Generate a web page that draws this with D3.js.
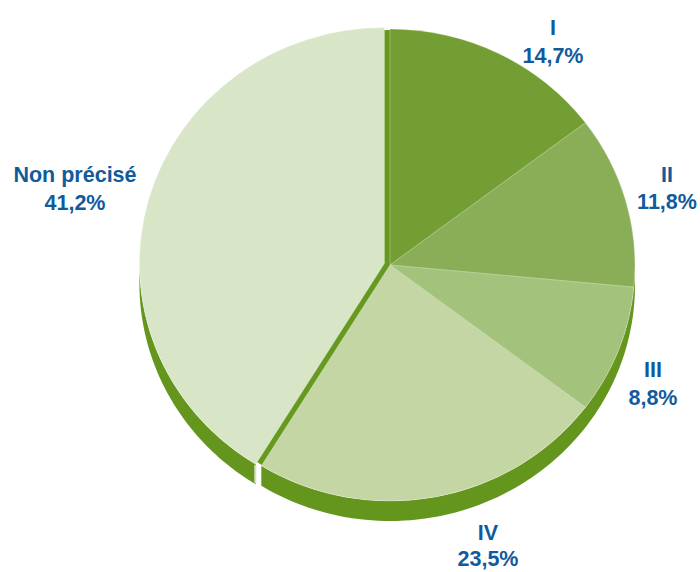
<!DOCTYPE html>
<html><head><meta charset="utf-8">
<script src="https://cdn.jsdelivr.net/npm/d3@7"></script>
<style>html,body{margin:0;padding:0;background:#fff;}svg{display:block;}</style>
</head><body>
<svg id="chart" width="700" height="572"></svg>
<script>
// ---- data ----
const categories = ["I", "II", "III", "IV", "Non précisé"];
const values = [14.7, 11.8, 8.8, 23.5, 41.2];
const valueLabels = ["14,7%", "11,8%", "8,8%", "23,5%", "41,2%"];
const colors = ["#739e34", "#8aae57", "#a3c27b", "#c3d6a4", "#d9e5c7"];

// ---- layout ----
const cx = 390, cy = 265, rx = 245, ry = 236, depth = 20;
const explodeDist = 5.8;               // "Non précisé" slice pulled out
const sideColor = "#64961e";
const baseColor = "#66991f";
const textColor = "#115b9c";
// label block centres (x, baseline of first line)
const labelAnchors = [[553, 35], [667, 182], [653, 377], [488, 540], [75, 182]];
const lineGap = [28, 27, 28, 26, 28];

const svg = d3.select("#chart");
const pie = d3.pie().sort(null).value(d => d)(values);
const arc = d3.arc().innerRadius(0).outerRadius(rx);
const k = ry / rx;

function pt(c, a, dy) { return [c[0] + rx * Math.sin(a), c[1] - ry * Math.cos(a) + (dy || 0)]; }
function center(i) {
  if (i !== 4) return [cx, cy];
  const m = (pie[i].startAngle + pie[i].endAngle) / 2;
  return [cx + explodeDist * Math.sin(m), cy - explodeDist * Math.cos(m) * k];
}
function wall(c, a0, a1) {
  const lo = Math.max(a0, Math.PI / 2), hi = Math.min(a1, 3 * Math.PI / 2);
  if (hi <= lo) return null;
  const n = 80, angs = d3.range(n + 1).map(j => lo + (hi - lo) * j / n);
  const top = angs.map(a => pt(c, a, 0));
  const bot = angs.slice().reverse().map(a => pt(c, a, depth));
  return d3.line()(top.concat(bot)) + "Z";
}

// side walls
const mainStart = pie[0].startAngle, mainEnd = pie[3].endAngle;
svg.append("path").attr("d", wall(center(4), pie[4].startAngle, pie[4].endAngle)).attr("fill", sideColor);
svg.append("path").attr("d", wall([cx, cy], mainStart, mainEnd)).attr("fill", sideColor);

// dark base under the gap of the exploded slice
svg.append("ellipse").attr("cx", cx).attr("cy", cy).attr("rx", rx - 1).attr("ry", ry - 1).attr("fill", baseColor);

// light edge of the exploded slice tip
const tip = pt(center(4), pie[4].startAngle, 0);
svg.append("line").attr("x1", tip[0] - 0.5).attr("y1", tip[1] + 1).attr("x2", tip[0] - 0.5).attr("y2", tip[1] + depth - 1)
  .attr("stroke", "#d3e0bf").attr("stroke-width", 2);

// top faces
pie.forEach((d, i) => {
  const c = center(i);
  svg.append("path")
    .attr("transform", `translate(${c[0]},${c[1]}) scale(1,${k})`)
    .attr("d", arc(d))
    .attr("fill", colors[i])
    .attr("stroke", "rgba(255,255,255,0.35)")
    .attr("stroke-width", 0.8)
    .attr("vector-effect", "non-scaling-stroke");
});

// labels
pie.forEach((d, i) => {
  const [x, y] = labelAnchors[i];
  const t = svg.append("text")
    .attr("x", x).attr("y", y)
    .attr("text-anchor", "middle")
    .attr("font-family", "'Liberation Sans', Arial, sans-serif")
    .attr("font-weight", "bold")
    .attr("font-size", 21.5)
    .attr("fill", textColor);
  t.append("tspan").attr("x", x).attr("y", y).text(categories[i]);
  t.append("tspan").attr("x", x).attr("y", y + lineGap[i]).text(valueLabels[i]);
});
</script>
</body></html>
